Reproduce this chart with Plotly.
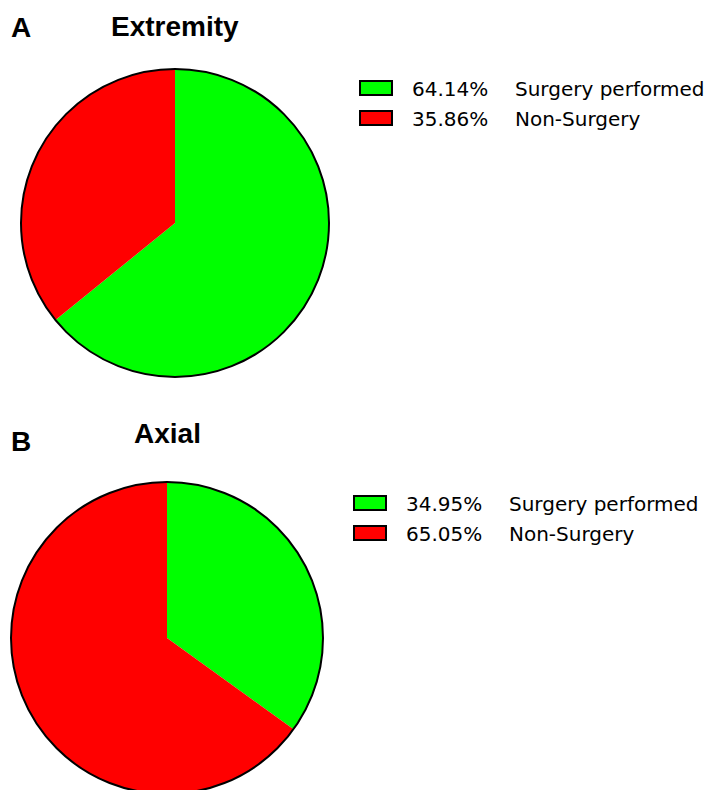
import plotly.graph_objects as go

W, H = 720, 790

# data
labels = ["Surgery performed", "Non-Surgery"]
colors = ["#00FF00", "#FF0000"]
extremity = [64.14, 35.86]
axial = [34.95, 65.05]

panels = [
    # letter, title, values, pie centre/radius (px), legend box left / first row y (px)
    dict(letter="A", title="Extremity", values=extremity, cx=167, cy=215, r=154,
         lx=352, ly=80, ty=18, lety=19),
    dict(letter="B", title="Axial", values=axial, cx=159, cy=630, r=156,
         lx=346, ly=495, ty=425, lety=433),
]

TITLE_FONT = "Liberation Sans, Arial, sans-serif"
LEG_FONT = "DejaVu Sans, Arial, sans-serif"


def px_x(x):
    return x / W


def px_y(y):
    return 1 - y / H


fig = go.Figure()
shapes = []
annotations = []

for p in panels:
    cx, cy, r = p["cx"], p["cy"], p["r"]
    fig.add_trace(go.Pie(
        labels=labels, values=p["values"], sort=False, direction="clockwise",
        rotation=0, marker=dict(colors=colors, line=dict(width=0)),
        textinfo="none", hoverinfo="label+percent", showlegend=False,
        domain=dict(x=[px_x(cx - r), px_x(cx + r)], y=[px_y(cy + r), px_y(cy - r)]),
    ))
    # outer outline only (no black radial lines in the original)
    shapes.append(dict(
        type="circle", xref="paper", yref="paper",
        x0=px_x(cx - r), x1=px_x(cx + r), y0=px_y(cy + r), y1=px_y(cy - r),
        line=dict(color="black", width=2), fillcolor="rgba(0,0,0,0)",
    ))
    # panel letter and title
    annotations.append(dict(
        text=f"<b>{p['letter']}</b>", x=px_x(1), y=px_y(p["lety"]), xref="paper", yref="paper",
        xanchor="left", yanchor="middle", showarrow=False,
        font=dict(family=TITLE_FONT, size=28, color="black"),
    ))
    annotations.append(dict(
        text=f"<b>{p['title']}</b>", x=px_x(cx), y=px_y(p["ty"]), xref="paper", yref="paper",
        xanchor="center", yanchor="middle", showarrow=False,
        font=dict(family=TITLE_FONT, size=28, color="black"),
    ))
    # legend
    for i, (lab, col, val) in enumerate(zip(labels, colors, p["values"])):
        ry = p["ly"] + i * 30
        shapes.append(dict(
            type="rect", xref="paper", yref="paper",
            x0=px_x(p["lx"]), x1=px_x(p["lx"] + 32), y0=px_y(ry + 7), y1=px_y(ry - 7),
            fillcolor=col, line=dict(color="black", width=2),
        ))
        annotations.append(dict(
            text=f"{val:.2f}%", x=px_x(p["lx"] + 50), y=px_y(ry + 1), xref="paper", yref="paper",
            xanchor="left", yanchor="middle", showarrow=False,
            font=dict(family=LEG_FONT, size=20, color="black"),
        ))
        annotations.append(dict(
            text=lab, x=px_x(p["lx"] + 153), y=px_y(ry + 1), xref="paper", yref="paper",
            xanchor="left", yanchor="middle", showarrow=False,
            font=dict(family=LEG_FONT, size=20, color="black"),
        ))

fig.update_layout(
    width=W, height=H,
    margin=dict(l=0, r=0, t=0, b=0),
    paper_bgcolor="white", plot_bgcolor="white",
    shapes=shapes, annotations=annotations,
    showlegend=False,
)

fig.write_html("out.html")
